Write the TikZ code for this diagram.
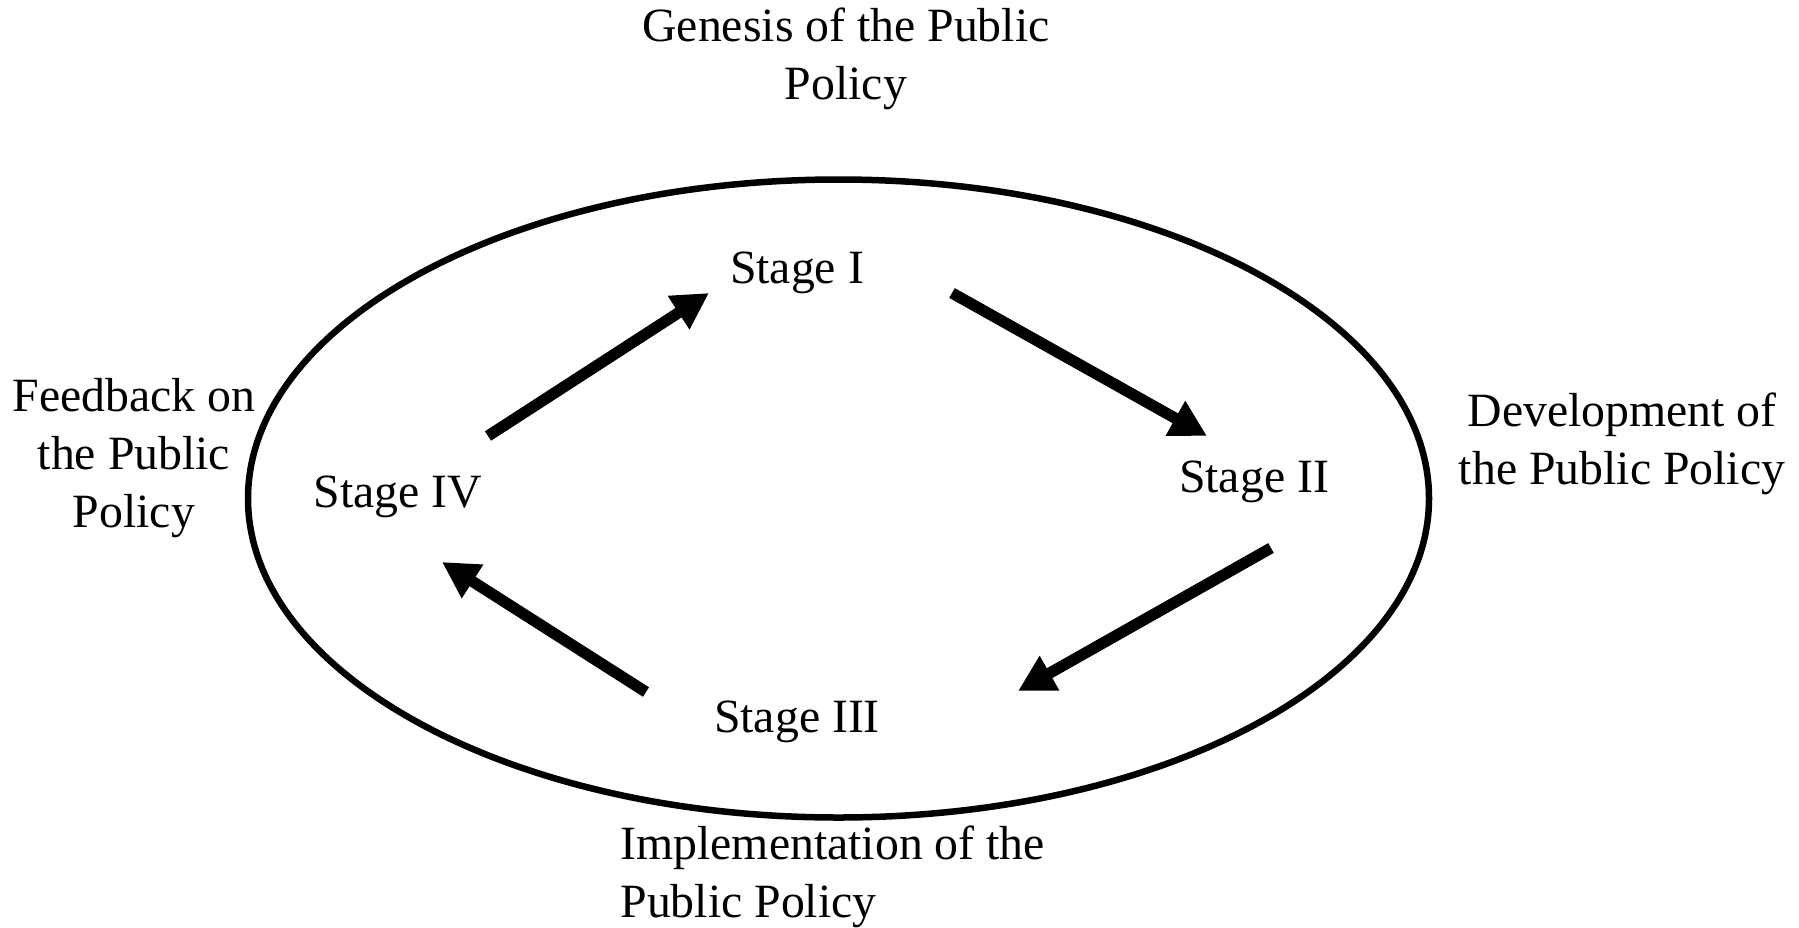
\documentclass[tikz,border=0pt]{standalone}
\usepackage{fontspec}
\setmainfont{Liberation Serif}
\usetikzlibrary{arrows.meta}
\begin{document}
\begin{tikzpicture}[x=0.4pt,y=-0.4pt,
  lbl/.style={inner sep=0pt, font=\fontsize{19.1}{23.2}\selectfont},
  flow/.style={line width=4.5pt, -{Triangle[length=14.5pt,width=15pt]}},
  ring/.style={line width=2.6pt}]
\useasboundingbox (0,0) rectangle (1799,927);
\draw[ring] (838.5,498.5) ellipse [x radius=590.5, y radius=319];
\node[lbl, align=center] (genesis) at (846,59) {Genesis of the Public\\Policy};
\node[lbl, align=center] (feedback) at (134,458) {Feedback on\\the Public\\Policy};
\node[lbl, align=center] (develop) at (1622,444) {Development of\\the Public Policy};
\node[lbl, align=left, anchor=west] (implement) at (620,877) {Implementation of the\\Public Policy};
\node[lbl] (s1) at (797,273) {Stage I};
\node[lbl] (s2) at (1254,482) {Stage II};
\node[lbl] (s3) at (797,722) {Stage III};
\node[lbl] (s4) at (398,497) {Stage IV};
\coordinate (a1s) at (488,436); \coordinate (a1e) at (709,293);
\coordinate (a2s) at (952,293); \coordinate (a2e) at (1207,436);
\coordinate (a3s) at (1271,548); \coordinate (a3e) at (1018,691);
\coordinate (a4s) at (646,692); \coordinate (a4e) at (442,562);
\draw[flow] (a1s) -- (a1e);
\draw[flow] (a2s) -- (a2e);
\draw[flow] (a3s) -- (a3e);
\draw[flow] (a4s) -- (a4e);
\end{tikzpicture}
\end{document}
